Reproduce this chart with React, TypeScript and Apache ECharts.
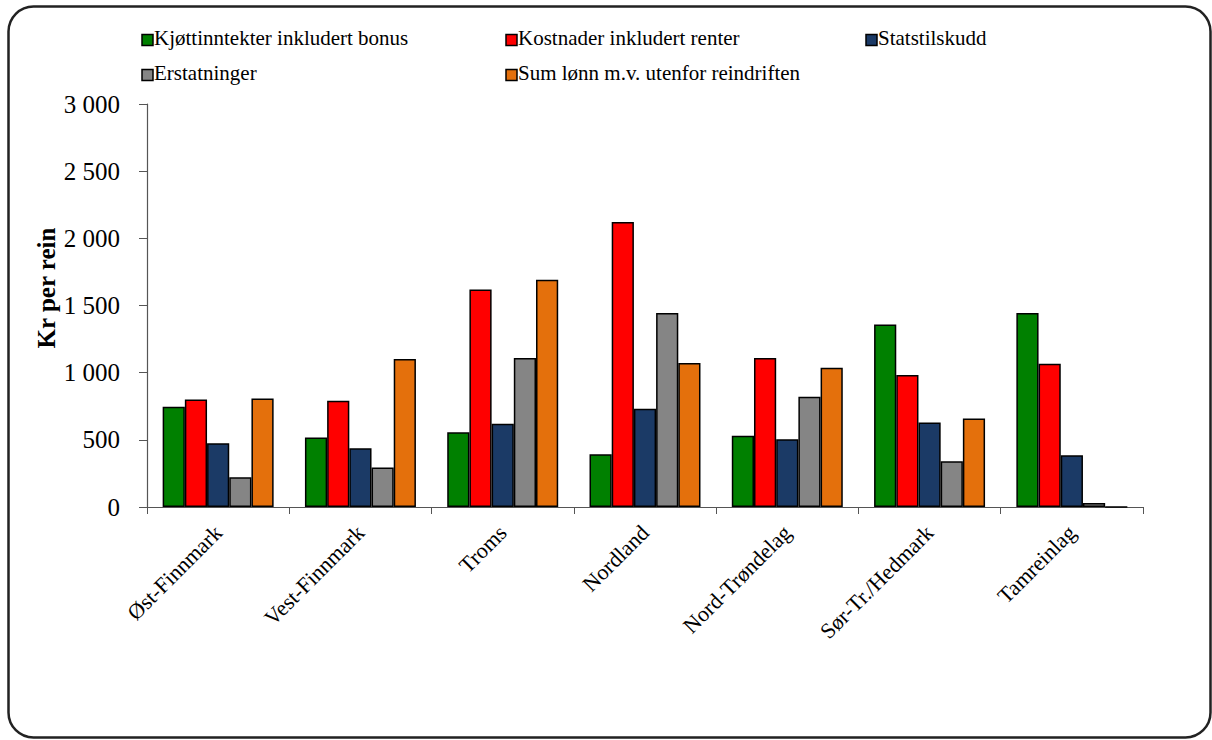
import React, { useEffect, useRef } from "react";
import * as echarts from "echarts";

const categories = ["Øst-Finnmark", "Vest-Finnmark", "Troms", "Nordland", "Nord-Trøndelag", "Sør-Tr./Hedmark", "Tamreinlag"];
const seriesNames = [
  "Kjøttinntekter inkludert bonus",
  "Kostnader inkludert renter",
  "Statstilskudd",
  "Erstatninger",
  "Sum lønn m.v. utenfor reindriften",
];
const kjott = [747, 518, 557, 393, 530, 1358, 1445];
const kostnader = [800, 791, 1619, 2122, 1110, 983, 1067];
const statstilskudd = [474, 438, 619, 731, 505, 629, 386];
const erstatninger = [221, 294, 1110, 1445, 821, 341, 30];
const sumLonn = [808, 1102, 1692, 1072, 1037, 659, 0];
const colors = ["#008000", "#FF0000", "#1B3A66", "#858585", "#E4700C"];
const yTicks = [0, 500, 1000, 1500, 2000, 2500, 3000];
const yTitle = "Kr per rein";

const FONT = "Liberation Serif";

export default function App() {
  const ref = useRef<HTMLDivElement>(null);
  useEffect(() => {
    if (!ref.current) return;
    const chart = echarts.init(ref.current, null, { renderer: "svg" });
    const values = [kjott, kostnader, statstilskudd, erstatninger, sumLonn];
    const legendPos = [
      { x: 142, y: 40 },
      { x: 506, y: 40 },
      { x: 866, y: 40 },
      { x: 142, y: 75 },
      { x: 506, y: 75 },
    ];
    const legendRects = seriesNames.map((n, i) => ({
      type: "rect",
      shape: { x: legendPos[i].x, y: legendPos[i].y - 5.5, width: 11, height: 11 },
      style: { fill: colors[i], stroke: "#000", lineWidth: 1.5 },
      silent: true,
    }));
    const legendTitles = seriesNames.map((n, i) => ({
      text: n,
      left: legendPos[i].x + 12,
      top: legendPos[i].y - 13,
      padding: 0,
      textStyle: { fontSize: 21, fontWeight: "normal", fontFamily: FONT, color: "#000" },
    }));
    chart.setOption({
      animation: false,
      textStyle: { fontFamily: FONT },
      title: legendTitles,
      graphic: [
        {
          type: "rect",
          shape: { x: 8.5, y: 6.5, width: 1202, height: 731, r: 25 },
          style: { fill: "none", stroke: "#222", lineWidth: 2.5 },
          silent: true,
        },
        {
          type: "text",
          x: 46,
          y: 288,
          rotation: Math.PI / 2,
          style: {
            text: yTitle,
            fontSize: 25,
            fontWeight: "bold",
            fontFamily: FONT,
            fill: "#000",
            textAlign: "center",
            textVerticalAlign: "middle",
          },
          silent: true,
        },
        ...legendRects,
      ],
      grid: { left: 147, right: 69, top: 104, bottom: 233, containLabel: false },
      xAxis: {
        type: "category",
        data: categories,
        axisLine: { lineStyle: { color: "#555", width: 1.2 } },
        axisTick: { show: true, length: 7, lineStyle: { color: "#555" }, alignWithLabel: false },
        axisLabel: { rotate: 45, fontSize: 22, color: "#000", fontFamily: FONT, margin: 22, interval: 0 },
      },
      yAxis: {
        type: "value",
        min: 0,
        max: 3000,
        interval: 500,
        axisLine: { show: true, lineStyle: { color: "#555", width: 1.2 } },
        axisTick: { show: true, length: 8, lineStyle: { color: "#555" } },
        splitLine: { show: false },
        axisLabel: {
          fontSize: 25,
          color: "#000",
          fontFamily: FONT,
          margin: 27,
          formatter: (v: number) => (yTicks.includes(v) ? String(v).replace(/\B(?=(\d{3})+(?!\d))/g, " ") : ""),
        },
      },
      series: seriesNames.map((n, i) => ({
        name: n,
        type: "bar",
        data: values[i],
        barGap: "0%",
        barCategoryGap: "22%",
        itemStyle: { color: colors[i], borderColor: "#000", borderWidth: 1.5 },
      })),
    });
    return () => chart.dispose();
  }, []);
  return <div ref={ref} style={{ position: "fixed", left: 0, top: 0, width: 1212, height: 740, background: "#fff" }} />;
}
